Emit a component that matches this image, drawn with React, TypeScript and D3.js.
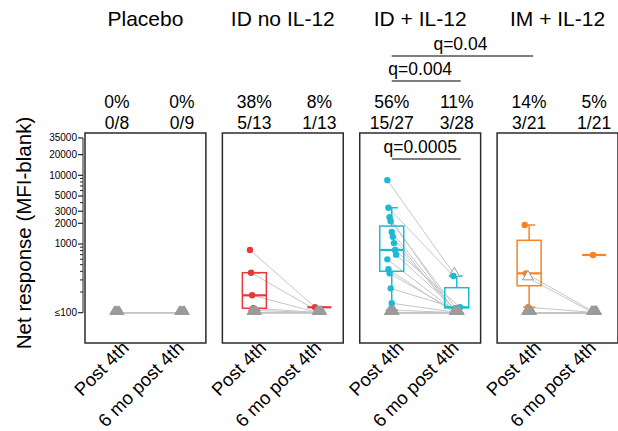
import React from "react";
import * as d3 from "d3";

// groups, timepoints and the header labels
const groups = ["Placebo", "ID no IL-12", "ID + IL-12", "IM + IL-12"];
const timepoints = ["Post 4th", "6 mo post 4th"];
const groupColors = ["#9a9a9a", "#e5393a", "#1bbcd3", "#fb8122"];
const pctLabels = [["0%", "0%"], ["38%", "8%"], ["56%", "11%"], ["14%", "5%"]];
const fracLabels = [["0/8", "0/9"], ["5/13", "1/13"], ["15/27", "3/28"], ["3/21", "1/21"]];

// per subject values (100 = "≤100", null = no sample), call 1 = responder
const placeboPost = [100, 100, 100, 100, 100, 100, 100, 100, null];
const placeboPostCall = [0, 0, 0, 0, 0, 0, 0, 0, 0];
const placeboMo6 = [100, 100, 100, 100, 100, 100, 100, 100, 100];
const placeboMo6Call = [0, 0, 0, 0, 0, 0, 0, 0, 0];

const idNoPost = [819, 382, 179, 116, 108, 100, 100, 100, 100, 100, 100, 100, 100];
const idNoPostCall = [1, 1, 1, 1, 1, 0, 0, 0, 0, 0, 0, 0, 0];
const idNoMo6 = [120, 100, 100, 100, 100, 100, 100, 100, 100, 100, 100, 100, 100];
const idNoMo6Call = [1, 0, 0, 0, 0, 0, 0, 0, 0, 0, 0, 0, 0];

const idIlPost = [8500, 3370, 2450, 2150, 1500, 1276, 1030, 819, 700, 598, 428, 374, 226, 137, 109,
  100, 100, 100, 100, 100, 100, 100, 100, 100, 100, 100, 100, null];
const idIlPostCall = [1, 1, 1, 1, 1, 1, 1, 1, 1, 1, 1, 1, 1, 1, 1,
  0, 0, 0, 0, 0, 0, 0, 0, 0, 0, 0, 0, 0];
const idIlMo6 = [360, 342, 100, 100, 100, 100, 100, 120, 100, 100, 100, 100, 116, 100, 100,
  100, 100, 100, 100, 100, 100, 100, 100, 100, 100, 100, 100, 100];
const idIlMo6Call = [0, 1, 0, 0, 0, 0, 0, 1, 0, 0, 0, 0, 1, 0, 0,
  0, 0, 0, 0, 0, 0, 0, 0, 0, 0, 0, 0, 0];

const imIlPost = [1890, 374, 323, 120, 100, 100, 100, 100, 100, 100, 100, 100, 100, 100, 100,
  100, 100, 100, 100, 100, 100, null];
const imIlPostCall = [1, 1, 0, 1, 0, 0, 0, 0, 0, 0, 0, 0, 0, 0, 0, 0, 0, 0, 0, 0, 0, 0];
const imIlMo6 = [null, 100, 100, 100, 100, 100, 100, 100, 100, 100, 100, 100, 100, 100, 100,
  100, 100, 100, 100, 100, 100, 692];
const imIlMo6Call = [0, 0, 0, 0, 0, 0, 0, 0, 0, 0, 0, 0, 0, 0, 0, 0, 0, 0, 0, 0, 0, 1];

const groupPost = [placeboPost, idNoPost, idIlPost, imIlPost];
const groupPostCall = [placeboPostCall, idNoPostCall, idIlPostCall, imIlPostCall];
const groupMo6 = [placeboMo6, idNoMo6, idIlMo6, imIlMo6];
const groupMo6Call = [placeboMo6Call, idNoMo6Call, idIlMo6Call, imIlMo6Call];

// axis ticks
const yTicks = [100, 1000, 2000, 3000, 5000, 10000, 20000, 35000];
const yTickLabels = ["≤100", "1000", "2000", "3000", "5000", "10000", "20000", "35000"];
const yMinor = [200, 300, 400, 500, 600, 700, 800, 900, 4000, 6000, 7000, 8000, 9000];

// significance brackets: [group, timepoint] -> [group, timepoint]
const qLabels = ["q=0.0005", "q=0.004", "q=0.04"];
const qFrom = [[2, 0], [2, 0], [2, 0]];
const qTo = [[2, 1], [2, 1], [3, 0]];

const FONT = "'Liberation Sans', Arial, sans-serif";

function boxStats(vals: number[]) {
  const s = vals.slice().sort(d3.ascending);
  const q1 = d3.quantile(s, 0.25)!;
  const med = d3.quantile(s, 0.5)!;
  const q3 = d3.quantile(s, 0.75)!;
  const iqr = q3 - q1;
  const lo = d3.min(s.filter(v => v >= q1 - 1.5 * iqr))!;
  const hi = d3.max(s.filter(v => v <= q3 + 1.5 * iqr))!;
  return { q1, med, q3, lo, hi };
}

export default function App() {
  const width = 618, height = 431;
  const top = 133, bottom = 343;

  const x0 = d3.scaleBand().domain(groups).range([85, 618]).paddingInner(0.12);
  const x1 = d3.scalePoint().domain(timepoints).range([32, 97]);
  const y = d3.scaleLog().domain([36.2, 41300]).range([bottom, top]);
  const tri = d3.symbol().type(d3.symbolTriangle).size(50)()!;

  const colX = (g: number, t: number) => x0(groups[g])! + x1(timepoints[t])!;
  const dotJ = (i: number) => (((i * 37) % 9) - 4) * 1.1;
  const triJ = (i: number) => (((i * 3) % 5) - 2) * 1.2;
  const labelShift = [13, 3];

  const boxW = 24, capW = 12;

  return (
    <svg width={width} height={height} style={{ position: "absolute", left: 0, top: 0 }} fontFamily={FONT}>
      <rect width={width} height={height} fill="#fff" />

      {/* y axis title */}
      <text transform={`translate(31,233) rotate(-90)`} textAnchor="middle" fontSize={20.5}>
        Net response (MFI-blank)
      </text>

      {/* y axis */}
      <g>
        <line x1={83} x2={83} y1={y(35000)} y2={y(100)} stroke="#222" strokeWidth={1} />
        {yTicks.map((t, i) => (
          <g key={t}>
            <line x1={78} x2={83} y1={y(t)} y2={y(t)} stroke="#222" strokeWidth={1.2} />
            <text x={77} y={y(t)} dy="0.35em" textAnchor="end" fontSize={10}>{yTickLabels[i]}</text>
          </g>
        ))}
        {yMinor.map(t => (
          <line key={t} x1={80} x2={83} y1={y(t)} y2={y(t)} stroke="#222" strokeWidth={1} />
        ))}
      </g>

      {groups.map((g, gi) => {
        const gx = x0(g)!;
        const post = groupPost[gi], mo6 = groupMo6[gi];
        const calls = [groupPostCall[gi], groupMo6Call[gi]];
        const series = [post, mo6];
        const col = groupColors[gi];
        return (
          <g key={g}>
            <text x={gx + x0.bandwidth() / 2} y={26} textAnchor="middle" fontSize={21}>{g}</text>
            {timepoints.map((t, ti) => (
              <g key={t}>
                <text x={colX(gi, ti)} y={108} textAnchor="middle" fontSize={17.5}>{pctLabels[gi][ti]}</text>
                <text x={colX(gi, ti)} y={129} textAnchor="middle" fontSize={17.5}>{fracLabels[gi][ti]}</text>
                <text transform={`translate(${colX(gi, ti) + labelShift[ti]},${bottom + 6}) rotate(-45)`}
                  textAnchor="end" fontSize={18.5}>{t}</text>
              </g>
            ))}
            <rect x={gx} y={top} width={x0.bandwidth()} height={bottom - top} fill="none" stroke="#2b2b2b" strokeWidth={1.5} />

            {/* pairing lines */}
            {post.map((v, i) => {
              const w = mo6[i];
              if (v == null || w == null) return null;
              const xa = colX(gi, 0) + (calls[0][i] ? dotJ(i) : triJ(i));
              const xb = colX(gi, 1) + (calls[1][i] ? dotJ(i) : triJ(i));
              return <line key={i} x1={xa} x2={xb} y1={y(v)} y2={y(w)} stroke="#c6c6c6" strokeWidth={1} />;
            })}

            {/* boxes of responders */}
            {series.map((vals, ti) => {
              const pos = vals.filter((v, i) => v != null && calls[ti][i] === 1) as number[];
              if (!pos.length) return null;
              const b = boxStats(pos);
              const cx = colX(gi, ti);
              return (
                <g key={ti} stroke={col} fill="none">
                  <line x1={cx} x2={cx} y1={y(b.q3)} y2={y(b.hi)} strokeWidth={1.5} />
                  <line x1={cx} x2={cx} y1={y(b.q1)} y2={y(b.lo)} strokeWidth={1.5} />
                  <line x1={cx - capW / 2} x2={cx + capW / 2} y1={y(b.hi)} y2={y(b.hi)} strokeWidth={1.5} />
                  <line x1={cx - capW / 2} x2={cx + capW / 2} y1={y(b.lo)} y2={y(b.lo)} strokeWidth={1.5} />
                  <rect x={cx - boxW / 2} y={y(b.q3)} width={boxW} height={y(b.q1) - y(b.q3)} strokeWidth={1.5} />
                  <line x1={cx - boxW / 2} x2={cx + boxW / 2} y1={y(b.med)} y2={y(b.med)} strokeWidth={2.2} />
                </g>
              );
            })}

            {/* points */}
            {series.map((vals, ti) =>
              vals.map((v, i) => {
                if (v == null) return null;
                const cx = colX(gi, ti);
                if (calls[ti][i] === 1)
                  return <circle key={`${ti}-${i}`} cx={cx + dotJ(i)} cy={y(v)} r={3.2} fill={col} />;
                const hollow = v > 100;
                return (
                  <path key={`${ti}-${i}`} d={tri} transform={`translate(${cx + triJ(i)},${y(v) - 1})`}
                    fill={hollow ? "#fff" : "#9b9b9b"} stroke={hollow ? "#999" : "none"} strokeWidth={1} />
                );
              })
            )}
          </g>
        );
      })}

      {/* significance brackets */}
      {qLabels.map((q, i) => {
        const xa = colX(qFrom[i][0], qFrom[i][1]);
        const xb = colX(qTo[i][0], qTo[i][1]);
        const ly = [159, 81, 56][i];
        const tx = i === 2 ? (xa + xb) / 2 : (xa + xb) / 2 - 4;
        return (
          <g key={q}>
            <line x1={xa} x2={xb + 4} y1={ly} y2={ly} stroke="#555" strokeWidth={1.5} />
            <text x={tx} y={ly - 6} textAnchor="middle" fontSize={17.5}>{q}</text>
          </g>
        );
      })}
    </svg>
  );
}
